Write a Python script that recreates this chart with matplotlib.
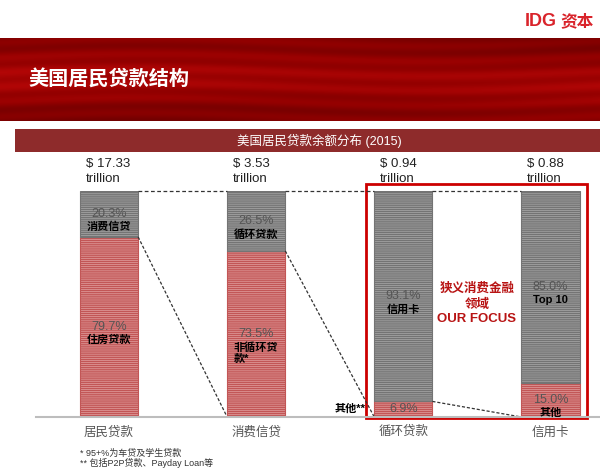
import numpy as np
import matplotlib
matplotlib.use('Agg')
import matplotlib.pyplot as plt
from matplotlib.colors import LinearSegmentedColormap
from matplotlib.patches import Rectangle

plt.rcParams['font.family'] = ['Liberation Sans', 'Noto Sans CJK SC']
plt.rcParams['hatch.linewidth'] = 1.0

W, H = 600, 472

categories = ['居民贷款', '消费信贷', '循环贷款', '信用卡']
totals = [17.33, 3.53, 0.94, 0.88]
red_share = [79.7, 73.5, 6.9, 15.0]
gray_share = [20.3, 26.5, 93.1, 85.0]
red_names = ['住房贷款', '非循环贷\n款*', '', '其他']
gray_names = ['消费信贷', '循环贷款', '信用卡', 'Top 10']
footnotes = ['* 95+%为车贷及学生贷款', '** 包括P2P贷款、Payday Loan等']

RED = '#cc0000'


def fig_box(x0, y0, x1, y1):
    # pixel box (top-left origin) -> figure fraction rect
    return [x0 / W, 1 - y1 / H, (x1 - x0) / W, (y1 - y0) / H]


fig = plt.figure(figsize=(6, 4.72), dpi=100)

# ---- banner
ax_b = fig.add_axes(fig_box(0, 38, 600, 121))
yy, xx = np.mgrid[0:83, 0:600]
tex = (0.5 - 0.22 * np.cos(yy / 83 * 2 * np.pi)
       + 0.12 * np.sin(yy * 0.42 + 1.6 * np.sin(xx * 0.011))
       + 0.08 * np.sin(xx * 0.007 + yy * 0.05))
cmap = LinearSegmentedColormap.from_list('banner', ['#720000', '#920000', '#b20606'])
ax_b.imshow(tex, cmap=cmap, aspect='auto', extent=[0, 600, 83, 0])
ax_b.axis('off')
ax_b.text(28, 40, '美国居民贷款结构', color='white', fontsize=14.5, fontweight='bold',
          va='center', ha='left', family='Noto Sans CJK SC')

# ---- logo
fig.text(525 / W, 1 - 21 / H, 'IDG', color='#d9242b', fontsize=13, fontweight='bold',
         ha='left', va='center')
fig.text(560 / W, 1 - 21 / H, '资本', color='#d9242b', fontsize=12, fontweight='bold',
         ha='left', va='center', family='Noto Sans CJK SC')

# ---- subtitle bar
ax_s = fig.add_axes(fig_box(15, 129, 600, 152))
ax_s.set_facecolor('#8e2b2b')
ax_s.set_xticks([])
ax_s.set_yticks([])
for s in ax_s.spines.values():
    s.set_visible(False)
ax_s.text(0.52, 0.5, '美国居民贷款余额分布 (2015)', color='white', fontsize=9,
          ha='center', va='center', transform=ax_s.transAxes)

# ---- bar chart
ax = fig.add_axes(fig_box(35.5, 191, 599, 417))
ax.set_xlim(-0.5, 3.33)
ax.set_ylim(0, 100)
x = np.arange(len(categories))
w = 0.395

ax.bar(x, red_share, w, color='#e3a2a2', edgecolor='#c25656', hatch='--------', linewidth=0.8)
ax.bar(x, gray_share, w, bottom=red_share, color='#ababab', edgecolor='#747474',
       hatch='--------', linewidth=0.8)

for s in ['top', 'right', 'left']:
    ax.spines[s].set_visible(False)
ax.spines['bottom'].set_color('#bdbdbd')
ax.spines['bottom'].set_linewidth(1.5)
ax.set_yticks([])
ax.set_xticks(x)
ax.set_xticklabels(categories, color='#555555', fontsize=9, family='Noto Sans CJK SC')
ax.tick_params(axis='x', length=0, pad=6)

# totals above bars
for xi, t in zip(x, totals):
    ax.annotate('$ {:.2f}\ntrillion'.format(t), xy=(xi - w / 2, 100), xytext=(4, 4),
                textcoords='offset points', ha='left', va='bottom', fontsize=9.5,
                color='#222222', linespacing=1.35, annotation_clip=False)

# segment labels
for xi, r, g, rn, gn in zip(x, red_share, gray_share, red_names, gray_names):
    gc = r + g / 2
    ax.text(xi, gc, '{:.1f}%'.format(g), ha='center', va='center', fontsize=9, color='#555555')
    ax.annotate(gn, xy=(xi, gc), xytext=(0, -5.5), textcoords='offset points', ha='center',
                va='top', fontsize=8, fontweight='bold', color='black')
    rc = r / 2
    ax.text(xi, rc, '{:.1f}%'.format(r), ha='center', va='center', fontsize=9, color='#555555')
    if rn:
        ax.annotate(rn, xy=(xi, rc), xytext=(0, -5.5), textcoords='offset points', ha='center',
                    va='top', fontsize=8, fontweight='bold', color='black',
                    multialignment='left', linespacing=1.2)

ax.annotate('其他**', xy=(x[2] - w / 2, red_share[2] / 2), xytext=(-6, 0),
            textcoords='offset points', ha='right', va='center', fontsize=8,
            fontweight='bold', color='black')

# connector lines
for i in range(len(x) - 1):
    ax.plot([x[i] + w / 2, x[i + 1] - w / 2], [100, 100], color='#333333', lw=0.9,
            ls=(0, (3, 2)), clip_on=False)
    ax.plot([x[i] + w / 2, x[i + 1] - w / 2], [red_share[i], 0], color='#333333', lw=0.9,
            ls=(0, (2.5, 1.5)), clip_on=False)

# focus box
ax.add_patch(Rectangle((x[2] - w / 2 - 0.055, -0.3), (x[3] - x[2]) + w + 0.105, 103.4,
                       fill=False, edgecolor=RED, lw=2, clip_on=False))
ax.text((x[2] + x[3]) / 2, 53.3, '狭义消费金融\n领域', ha='center', va='center', fontsize=9,
        fontweight='bold', color='#b81414', linespacing=1.3, family='Noto Sans CJK SC')
ax.text((x[2] + x[3]) / 2, 43.4, 'OUR FOCUS', ha='center', va='center', fontsize=9.5,
        fontweight='bold', color='#b81414')

# footnotes
for k, note in enumerate(footnotes):
    fig.text(80 / W, 1 - (453 + 10 * k) / H, note, fontsize=6.5, color='#333333',
             ha='left', va='center')

fig.savefig('out.png', dpi=100)
